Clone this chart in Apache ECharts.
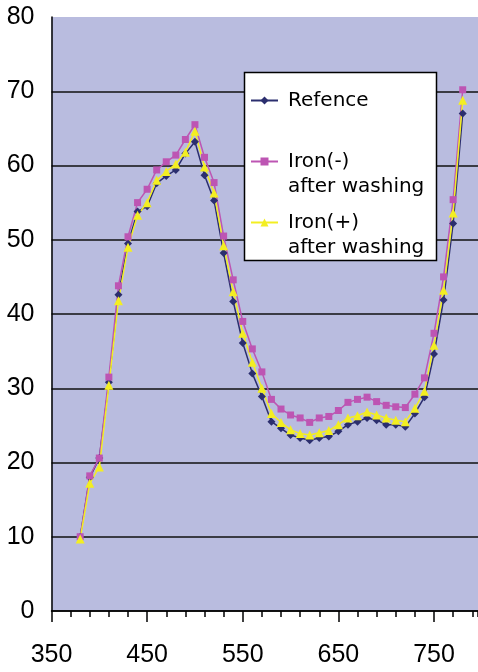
<!DOCTYPE html>
<html>
<head>
<meta charset="utf-8">
<script src="https://cdn.jsdelivr.net/npm/echarts@6/dist/echarts.min.js"></script>
<style>
  html,body{margin:0;padding:0;background:#fff;}
  #main{width:478px;height:672px;}
</style>
</head>
<body>
<div id="main"></div>
<script>
// wavelength (nm)
var wavelengths = [380,390,400,410,420,430,440,450,460,470,480,490,500,510,520,530,540,550,560,570,
                   580,590,600,610,620,630,640,650,660,670,680,690,700,710,720,730,740,750,760,770,780];
// Refence
var refence = [10.0,18.0,20.6,30.8,42.6,49.5,53.8,54.5,57.6,58.6,59.4,61.6,63.2,58.7,55.3,48.2,41.7,36.1,32.0,28.9,
               25.5,24.6,23.7,23.3,23.0,23.3,23.5,24.2,25.1,25.5,26.0,25.7,25.1,25.1,24.8,26.6,28.8,34.6,41.9,52.2,67.0];
// Iron(-) after washing
var ironMinus = [10.0,18.2,20.6,31.5,43.8,50.4,55.0,56.8,59.4,60.5,61.4,63.5,65.5,61.1,57.7,50.5,44.6,39.0,35.3,32.2,
                 28.5,27.2,26.4,26.0,25.4,26.0,26.2,27.0,28.1,28.5,28.8,28.2,27.7,27.5,27.4,29.2,31.4,37.4,45.0,55.4,70.2];
// Iron(+) after washing
var ironPlus = [9.7,17.2,19.4,30.4,41.8,49.0,53.3,55.0,58.0,59.2,60.2,61.8,64.6,59.8,56.3,49.2,43.0,37.4,33.5,30.0,
                26.6,25.4,24.4,23.9,23.7,24.0,24.3,25.1,26.0,26.3,26.8,26.4,26.0,25.7,25.5,27.3,29.6,35.8,43.2,53.6,68.8];

var names = ['Refence','Iron(-)','Iron(+)'];
var legendText = {
  'Refence':'\nRefence\n',
  'Iron(-)':'\nIron(-)\nafter washing',
  'Iron(+)':'\nIron(+)\nafter washing'
};

function pairs(ys){
  return wavelengths.map(function(x,i){ return [x, ys[i]]; });
}

var numFont = "'Liberation Sans Narrow','Liberation Sans',sans-serif";
var xMin = 350, xMax = 796;

var chart = echarts.init(document.getElementById('main'));
chart.setOption({
  animation:false,
  backgroundColor:'#ffffff',
  grid:{left:51.5,top:17,bottom:61,right:0,show:true,backgroundColor:'#b9bcdf',borderWidth:0},
  xAxis:[{
    // main axis: labels + long ticks every 100
    type:'value',min:xMin,max:xMax,interval:100,
    axisLine:{lineStyle:{color:'#000',width:1.5}},
    axisTick:{length:11,lineStyle:{color:'#000',width:1.5}},
    splitLine:{show:false},
    axisLabel:{color:'#000',fontSize:25,fontFamily:numFont,margin:32,showMaxLabel:false}
  },{
    // short ticks every 20
    type:'value',min:xMin,max:xMax,interval:20,position:'bottom',
    axisLine:{show:false},
    axisTick:{length:6,lineStyle:{color:'#000',width:1.5}},
    splitLine:{show:false},
    axisLabel:{show:false}
  }],
  yAxis:{
    type:'value',min:0,max:80,interval:10,
    axisLine:{show:true,lineStyle:{color:'#000',width:1.5}},
    axisTick:{show:false},
    splitLine:{show:true,showMaxLine:false,lineStyle:{color:'#111',width:1.5}},
    axisLabel:{color:'#000',fontSize:25,fontFamily:numFont,margin:17,padding:[6,0,0,0]}
  },
  graphic:[{
    type:'rect',z:3,
    shape:{x:244.5,y:72.5,width:192,height:188},
    style:{fill:'#fff',stroke:'#000',lineWidth:1.5}
  }],
  legend:{
    orient:'vertical',left:250,top:63,padding:0,itemGap:-14,
    itemWidth:27,itemHeight:10,
    data:names,
    formatter:function(n){ return legendText[n]; },
    textStyle:{fontFamily:'DejaVu Sans',fontSize:20,lineHeight:25,color:'#000',padding:[0,0,0,5]}
  },
  series:[
    {name:'Refence',type:'line',data:pairs(refence),symbol:'diamond',symbolSize:8,
     itemStyle:{color:'#2b2e6e'},lineStyle:{color:'#2b2e6e',width:1.5}},
    {name:'Iron(-)',type:'line',data:pairs(ironMinus),symbol:'rect',symbolSize:7,
     itemStyle:{color:'#bd55b3'},lineStyle:{color:'#bd55b3',width:1.5}},
    {name:'Iron(+)',type:'line',data:pairs(ironPlus),symbol:'triangle',symbolSize:9,
     itemStyle:{color:'#f3ee22'},lineStyle:{color:'#f3ee22',width:1.5}}
  ]
});
</script>
</body>
</html>
